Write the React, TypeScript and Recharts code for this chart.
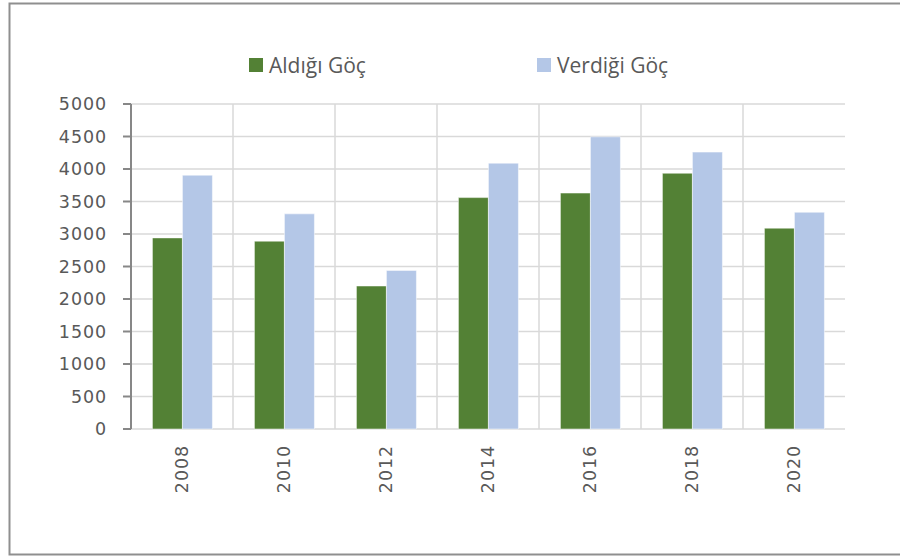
import React from 'react';
import { BarChart, Bar, XAxis, YAxis, CartesianGrid, Legend } from 'recharts';

const years = ['2008', '2010', '2012', '2014', '2016', '2018', '2020'];
const aldigi = [2940, 2890, 2200, 3560, 3630, 3935, 3090];
const verdigi = [3905, 3310, 2440, 4090, 4495, 4260, 3335];
const yTicks = [0, 500, 1000, 1500, 2000, 2500, 3000, 3500, 4000, 4500, 5000];

const data = years.map((y, i) => ({ year: y, aldigi: aldigi[i], verdigi: verdigi[i] }));
const edgeTicks = years.map((_, i) => i).concat(years.length);

const AXIS_COLOR = '#878787';
const GRID_COLOR = '#d9d9d9';
const TEXT_COLOR = '#595959';
const FRAME_COLOR = '#8f8f8f';
const TICK_FONT = { fontFamily: 'DejaVu Sans, sans-serif', fontSize: 17.5, fill: TEXT_COLOR, letterSpacing: 0.9 };

function YearTick({ x, y, payload }: any) {
  return (
    <g transform={`translate(${x},${y})`}>
      <text transform="rotate(-90)" x={-16} y={0} dy="0.36em" textAnchor="end" style={TICK_FONT}>
        {payload.value}
      </text>
    </g>
  );
}

function TopLegend({ payload }: any) {
  return (
    <div style={{ display: 'flex', fontFamily: 'Open Sans, sans-serif', fontSize: 21, color: TEXT_COLOR }}>
      {(payload || []).map((p: any) => (
        <div key={p.value} style={{ width: 288, display: 'flex', alignItems: 'center', height: 26 }}>
          <div style={{ width: 14, height: 14, background: p.color, marginRight: 6 }} />
          <span style={{ lineHeight: '26px' }}>{p.value}</span>
        </div>
      ))}
    </div>
  );
}

export default function App() {
  return (
    <div style={{ position: 'fixed', left: 0, top: 0, width: 900, height: 556, background: '#fff', overflow: 'hidden' }}>
      <div style={{ position: 'absolute', left: 0, top: 0 }}>
        <BarChart width={900} height={556} data={data}
          margin={{ top: 104, right: 55, left: 0, bottom: 0 }}
          barCategoryGap="21%" barGap={0}>
          <CartesianGrid stroke={GRID_COLOR} strokeWidth={1.5}
            verticalCoordinatesGenerator={({ offset }: any) =>
              years.slice(1).map((_, i) => offset.left + ((i + 1) * offset.width) / years.length)} />

          <XAxis xAxisId="edge" type="number" domain={[0, years.length]} ticks={edgeTicks}
            allowDataOverflow height={0} tick={false} tickSize={8}
            axisLine={{ stroke: AXIS_COLOR, strokeWidth: 2 }} tickLine={{ stroke: AXIS_COLOR, strokeWidth: 2 }} />
          <XAxis xAxisId="cat" dataKey="year" height={127} tick={<YearTick />} tickSize={0} tickMargin={0}
            axisLine={false} tickLine={false} interval={0} />
          <XAxis xAxisId="top" orientation="top" dataKey="year" height={0} tick={false} tickLine={false}
            axisLine={{ stroke: AXIS_COLOR, strokeWidth: 2 }} />

          <YAxis domain={[0, 5000]} ticks={yTicks} width={131} tickSize={8} tickMargin={16}
            tick={TICK_FONT} interval={0}
            axisLine={{ stroke: AXIS_COLOR, strokeWidth: 2 }} tickLine={{ stroke: AXIS_COLOR, strokeWidth: 2 }} />
          <YAxis yAxisId="r" orientation="right" domain={[0, 5000]} width={0} tick={false} tickLine={false}
            axisLine={{ stroke: AXIS_COLOR, strokeWidth: 2 }} />

          <Legend layout="horizontal" verticalAlign="middle" content={<TopLegend />}
            wrapperStyle={{ top: 52, left: 249, width: 600, height: 26 }} />

          <Bar xAxisId="cat" dataKey="aldigi" name="Aldığı Göç" fill="#538135"
            stroke="#ffffff" strokeWidth={0.5} isAnimationActive={false} />
          <Bar xAxisId="cat" dataKey="verdigi" name="Verdiği Göç" fill="#b4c7e7"
            stroke="#ffffff" strokeWidth={0.5} isAnimationActive={false} />
        </BarChart>
      </div>
      <svg width={900} height={556} style={{ position: 'absolute', left: 0, top: 0, pointerEvents: 'none' }}>
        <polyline points="900,3.5 9.5,3.5 9.5,554.5 900,554.5" fill="none" stroke={FRAME_COLOR} strokeWidth={2} />
      </svg>
    </div>
  );
}
